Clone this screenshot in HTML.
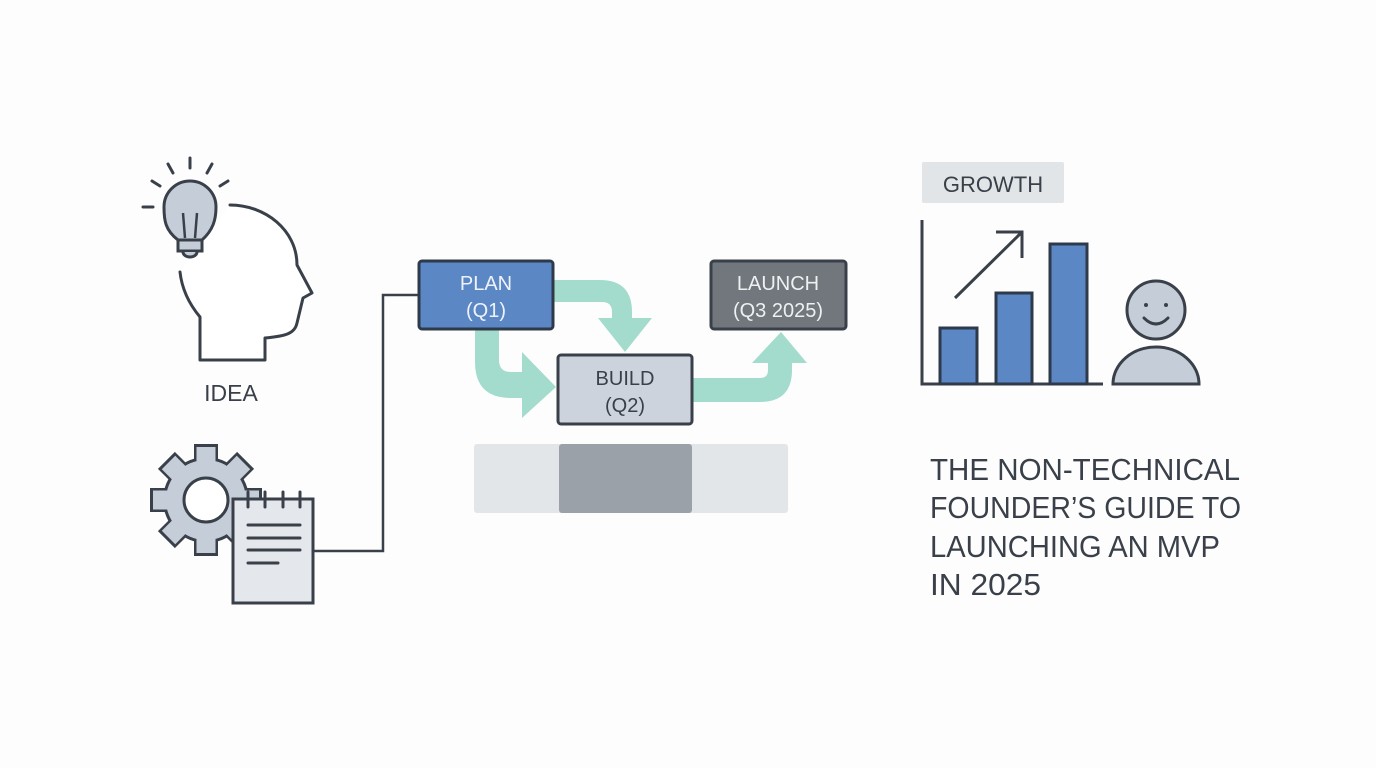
<!DOCTYPE html>
<html><head><meta charset="utf-8"><style>
html,body{margin:0;padding:0;background:#fff;}
svg{display:block;}
text{font-family:"Liberation Sans",sans-serif;}
</style></head><body>
<svg width="1376" height="768" viewBox="0 0 1376 768" xmlns="http://www.w3.org/2000/svg">
<rect width="1376" height="768" fill="#fdfdfd"/>
<g stroke="#3a4049" stroke-width="3" fill="none" stroke-linecap="round" stroke-linejoin="round">
  <path d="M230 205 C265 205 297 230 297 265 L312 293 L303 298 L297 323 C295 333 287 336 265 338 L265 360 L200 360 L200 317 C190 305 182 290 180 272" fill="#fff"/>
  <line x1="190" y1="158" x2="190" y2="168"/>
  <line x1="168" y1="164" x2="173" y2="173"/>
  <line x1="212" y1="164" x2="207" y2="173"/>
  <line x1="152" y1="181" x2="160" y2="186"/>
  <line x1="228" y1="181" x2="220" y2="186"/>
  <line x1="143" y1="207" x2="153" y2="207"/>
</g>
<path d="M178 240 C165 230 164 220 164 207 A26 26 0 1 1 216 207 C216 220 213 230 202 240 Z" fill="#c5ced8" stroke="#3a4049" stroke-width="3"/>
<path d="M183 213 L185 238 M197 213 L195 238" stroke="#3a4049" stroke-width="2.5" fill="none"/>
<rect x="178" y="240" width="24" height="11" fill="#c5ced8" stroke="#3a4049" stroke-width="3"/>
<path d="M183 252 A7 5 0 0 0 197 252" fill="#c5ced8" stroke="#3a4049" stroke-width="3"/>
<text x="231" y="401" font-size="23" fill="#3a4049" text-anchor="middle">IDEA</text>
<g transform="translate(206,500)">
  <g fill="#3a4049">
    <circle r="43"/>
    <rect x="-12" y="-56" width="24" height="20"/>
    <rect x="-12" y="-56" width="24" height="20" transform="rotate(45)"/>
    <rect x="-12" y="-56" width="24" height="20" transform="rotate(90)"/>
    <rect x="-12" y="-56" width="24" height="20" transform="rotate(135)"/>
    <rect x="-12" y="-56" width="24" height="20" transform="rotate(180)"/>
    <rect x="-12" y="-56" width="24" height="20" transform="rotate(225)"/>
    <rect x="-12" y="-56" width="24" height="20" transform="rotate(270)"/>
    <rect x="-12" y="-56" width="24" height="20" transform="rotate(315)"/>
  </g>
  <g fill="#c5ced8">
    <circle r="40"/>
    <rect x="-9.5" y="-53" width="19" height="20"/>
    <rect x="-9.5" y="-53" width="19" height="20" transform="rotate(45)"/>
    <rect x="-9.5" y="-53" width="19" height="20" transform="rotate(90)"/>
    <rect x="-9.5" y="-53" width="19" height="20" transform="rotate(135)"/>
    <rect x="-9.5" y="-53" width="19" height="20" transform="rotate(180)"/>
    <rect x="-9.5" y="-53" width="19" height="20" transform="rotate(225)"/>
    <rect x="-9.5" y="-53" width="19" height="20" transform="rotate(270)"/>
    <rect x="-9.5" y="-53" width="19" height="20" transform="rotate(315)"/>
  </g>
  <circle r="22" fill="#fff" stroke="#3a4049" stroke-width="3"/>
</g>
<rect x="233" y="499" width="80" height="104" fill="#e4e7eb" stroke="#3a4049" stroke-width="3"/>
<g stroke="#3a4049" stroke-width="3" stroke-linecap="round">
  <line x1="248" y1="492" x2="248" y2="507"/><line x1="265" y1="492" x2="265" y2="507"/>
  <line x1="283" y1="492" x2="283" y2="507"/><line x1="300" y1="492" x2="300" y2="507"/>
  <line x1="248" y1="525" x2="300" y2="525"/><line x1="248" y1="538" x2="300" y2="538"/>
  <line x1="248" y1="550" x2="300" y2="550"/><line x1="248" y1="563" x2="278" y2="563"/>
</g>
<path d="M313 551 H383 V295 H419" stroke="#3a4049" stroke-width="2.5" fill="none"/>
<g fill="#a3dccd">
  <path d="M553 280 H600 Q632 280 632 312 V318 H652 L625 352 L598 318 H612 V312 Q612 302 602 302 H553 Z"/>
  <path d="M475 329 H499 V360 Q499 372 511 372 H522 V352 L556 387 L522 418 V398 H511 Q475 398 475 362 Z"/>
  <path d="M692 378 H760 Q768 378 768 370 V363 H752 L781 332 L807 363 H792 V370 Q792 402 760 402 H692 Z"/>
</g>
<rect x="419" y="261" width="134" height="68" rx="3" fill="#5b87c5" stroke="#2e3a4a" stroke-width="3"/>
<text x="486" y="290" font-size="20" fill="#eef3fa" text-anchor="middle">PLAN</text>
<text x="486" y="317" font-size="20" fill="#eef3fa" text-anchor="middle">(Q1)</text>
<rect x="711" y="261" width="135" height="68" rx="3" fill="#72777d" stroke="#3a4049" stroke-width="3"/>
<text x="778" y="290" font-size="20" fill="#eef0f2" text-anchor="middle">LAUNCH</text>
<text x="778" y="317" font-size="20" fill="#eef0f2" text-anchor="middle">(Q3 2025)</text>
<rect x="558" y="355" width="134" height="69" rx="3" fill="#ccd3dc" stroke="#3a4049" stroke-width="3"/>
<text x="625" y="385" font-size="20" fill="#3a4049" text-anchor="middle">BUILD</text>
<text x="625" y="412" font-size="20" fill="#3a4049" text-anchor="middle">(Q2)</text>
<rect x="474" y="444" width="314" height="69" rx="3" fill="#e3e6e9"/>
<rect x="559" y="444" width="133" height="69" rx="3" fill="#9aa1a9"/>
<rect x="922" y="162" width="142" height="41" rx="2" fill="#e2e5e8"/>
<text x="993" y="192" font-size="22" fill="#3a4049" text-anchor="middle">GROWTH</text>
<path d="M922 220 V384 H1103" stroke="#3a4049" stroke-width="3" fill="none"/>
<g fill="#5b87c5" stroke="#2e3a4a" stroke-width="3">
  <rect x="940" y="328" width="37" height="56"/>
  <rect x="996" y="293" width="36" height="91"/>
  <rect x="1050" y="244" width="37" height="140"/>
</g>
<path d="M955 298 L1022 232 M996 232 H1022 V258" stroke="#3a4049" stroke-width="3" fill="none"/>
<circle cx="1156" cy="310" r="29" fill="#c5ced8" stroke="#3a4049" stroke-width="3"/>
<circle cx="1146" cy="305" r="2" fill="#3a4049"/><circle cx="1166" cy="305" r="2" fill="#3a4049"/>
<path d="M1144 318 Q1156 330 1168 318" stroke="#3a4049" stroke-width="3" fill="none" stroke-linecap="round"/>
<path d="M1113 384 A43 37 0 0 1 1199 384 Z" fill="#c5ced8" stroke="#3a4049" stroke-width="3"/>
<g font-size="31" fill="#3a4049">
  <text x="930" y="480" textLength="310" lengthAdjust="spacingAndGlyphs">THE NON-TECHNICAL</text>
  <text x="930" y="518" textLength="311" lengthAdjust="spacingAndGlyphs">FOUNDER’S GUIDE TO</text>
  <text x="930" y="557" textLength="290" lengthAdjust="spacingAndGlyphs">LAUNCHING AN MVP</text>
  <text x="930" y="595" textLength="111" lengthAdjust="spacingAndGlyphs">IN 2025</text>
</g>
</svg>
</body></html>
